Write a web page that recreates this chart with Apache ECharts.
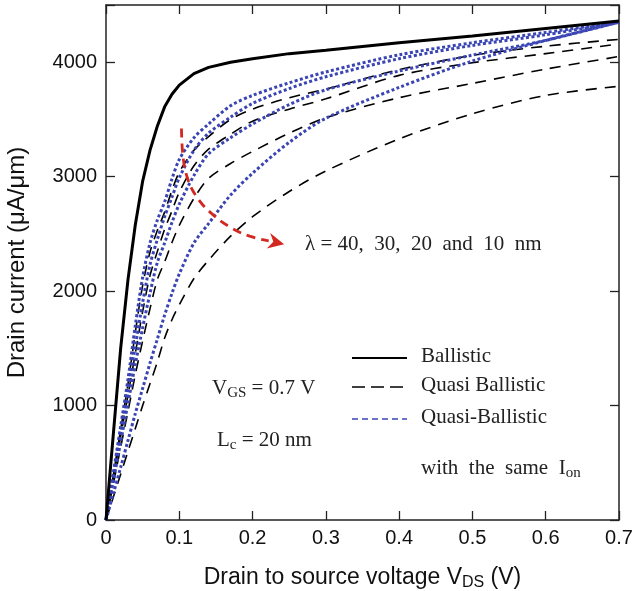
<!DOCTYPE html>
<html>
<head>
<meta charset="utf-8">
<style>
  html, body { margin: 0; padding: 0; background: #fff; }
  #main { width: 635px; height: 591px; }
</style>
</head>
<body>
<div id="main"></div>
<script src="https://cdn.jsdelivr.net/npm/echarts@6/dist/echarts.min.js"></script>
<script>
// V_DS sample points (V)
const vds = [0, 0.01, 0.02, 0.03, 0.04, 0.05, 0.06, 0.07, 0.08, 0.09, 0.1, 0.12, 0.14, 0.17, 0.2, 0.25, 0.3, 0.4, 0.5, 0.6, 0.7];

// drain current (uA/um)
const ballistic = [0, 750, 1500, 2100, 2580, 2960, 3230, 3440, 3610, 3720, 3800, 3900, 3955, 4000, 4030, 4075, 4105, 4170, 4230, 4295, 4360];

// quasi ballistic, lambda = 40, 30, 20, 10 nm
const quasi40 = [0, 395, 790, 1190, 1640, 2050, 2340, 2530, 2690, 2880, 3040, 3230, 3350, 3500, 3590, 3690, 3765, 3935, 4060, 4140, 4200];
const quasi30 = [0, 365, 730, 1090, 1455, 1820, 2135, 2345, 2540, 2700, 2865, 3095, 3240, 3370, 3485, 3590, 3680, 3885, 3995, 4075, 4160];
const quasi20 = [0, 315, 635, 950, 1270, 1565, 1845, 2100, 2255, 2425, 2575, 2810, 2985, 3115, 3220, 3380, 3515, 3690, 3815, 3940, 4050];
const quasi10 = [0, 200, 400, 600, 800, 1000, 1190, 1380, 1590, 1750, 1880, 2110, 2270, 2480, 2650, 2870, 3050, 3330, 3550, 3710, 3790];

// quasi ballistic with the same Ion
const sameIon40 = [0, 410, 820, 1230, 1700, 2120, 2420, 2620, 2780, 2980, 3150, 3340, 3460, 3620, 3710, 3820, 3915, 4065, 4170, 4260, 4350];
const sameIon30 = [0, 380, 760, 1140, 1520, 1900, 2230, 2450, 2650, 2820, 2990, 3230, 3380, 3520, 3640, 3770, 3873, 4031, 4147, 4240, 4350];
const sameIon20 = [0, 340, 680, 1020, 1360, 1680, 1980, 2250, 2420, 2600, 2760, 3010, 3200, 3340, 3460, 3630, 3759, 3923, 4062, 4191, 4350];
const sameIon10 = [0, 230, 460, 695, 930, 1150, 1370, 1580, 1790, 1980, 2150, 2420, 2590, 2840, 3030, 3300, 3510, 3780, 4010, 4190, 4350];

// red arrow path [V, uA/um], then the tip
const arrowPath = [[0.103, 3420], [0.105, 3180], [0.111, 2990], [0.123, 2830], [0.142, 2690], [0.169, 2560], [0.196, 2480], [0.222, 2440]];
const arrowTip = [0.243, 2410];

const xTicks = [0, 0.1, 0.2, 0.3, 0.4, 0.5, 0.6, 0.7];
const yTicks = [0, 1000, 2000, 3000, 4000];

const SANS = '"Liberation Sans", Arial, Helvetica, sans-serif';
const SERIF = '"Liberation Serif", "Times New Roman", serif';
const BLUE = '#3a45b3';
const RED = '#d3281f';

const pairs = arr => vds.map((v, i) => [v, arr[i]]);

const dashedSeries = [quasi40, quasi30, quasi20, quasi10].map(d => ({
  name: 'Quasi Ballistic',
  type: 'line',
  data: pairs(d),
  smooth: 0.3,
  showSymbol: false,
  lineStyle: { color: '#000', width: 1.6, type: [11, 8] },
  z: 3,
}));

const dottedSeries = [sameIon40, sameIon30, sameIon20, sameIon10].map(d => ({
  name: 'Quasi-Ballistic',
  type: 'line',
  data: pairs(d),
  smooth: 0.3,
  showSymbol: false,
  lineStyle: { color: BLUE, width: 3, type: [3, 2.4] },
  z: 4,
}));

const axisCommon = {
  axisLine: { show: true, onZero: false, lineStyle: { color: '#222', width: 1.5 } },
  axisTick: { show: true, inside: true, length: 9, lineStyle: { color: '#222', width: 1.3 } },
  splitLine: { show: false },
};

const subRich = { sub: { font: '15px ' + SERIF, fill: '#222', padding: [10, 0, 0, 0] } };

const chart = echarts.init(document.getElementById('main'));

const option = {
  animation: false,
  backgroundColor: '#fff',
  grid: { left: 106, right: 16, top: 5, bottom: 71, containLabel: false, outerBoundsMode: 'none' },
  xAxis: [
    {
      ...axisCommon,
      type: 'value',
      min: 0,
      max: 0.7,
      interval: 0.1,
      axisLabel: {
        color: '#111',
        fontFamily: SANS,
        fontSize: 20,
        margin: 8,
        formatter: v => (xTicks.includes(+v.toFixed(1)) ? (v === 0 ? '0' : v.toFixed(1)) : ''),
      },
      name: 'Drain to source voltage V{sub|DS} (V)',
      nameLocation: 'middle',
      nameGap: 44,
      nameTextStyle: {
        color: '#111',
        fontFamily: SANS,
        fontSize: 23,
        rich: { sub: { fontFamily: SANS, fontSize: 16, padding: [11, 0, 0, 0] } },
      },
    },
    {
      ...axisCommon,
      type: 'value',
      position: 'top',
      min: 0,
      max: 0.7,
      interval: 0.1,
      axisLabel: { show: false },
    },
  ],
  yAxis: [
    {
      ...axisCommon,
      type: 'value',
      min: 0,
      max: 4500,
      interval: 1000,
      axisLabel: {
        color: '#111',
        fontFamily: SANS,
        fontSize: 20,
        margin: 9,
        formatter: v => (yTicks.includes(v) ? String(v) : ''),
      },
      name: 'Drain current (μA/μm)',
      nameLocation: 'middle',
      nameGap: 77,
      nameTextStyle: { color: '#111', fontFamily: SANS, fontSize: 24 },
    },
    {
      ...axisCommon,
      type: 'value',
      position: 'right',
      min: 0,
      max: 4500,
      interval: 1000,
      axisLabel: { show: false },
    },
  ],
  series: [
    {
      name: 'Ballistic',
      type: 'line',
      data: pairs(ballistic),
      showSymbol: false,
      lineStyle: { color: '#000', width: 3 },
      z: 5,
    },
    ...dashedSeries,
    ...dottedSeries,
    {
      name: 'arrow',
      type: 'line',
      data: arrowPath,
      smooth: 0.4,
      showSymbol: false,
      lineStyle: { color: RED, width: 2.8, type: [9, 6] },
      z: 6,
    },
  ],
  graphic: [
    // annotation texts
    {
      type: 'text', left: 305, top: 234,
      style: { text: 'λ = 40,  30,  20  and  10  nm', font: '21px ' + SERIF, fill: '#222' },
    },
    {
      type: 'text', left: 212, top: 378,
      style: { text: 'V{sub|GS} = 0.7 V', font: '21px ' + SERIF, fill: '#222', rich: subRich },
    },
    {
      type: 'text', left: 217, top: 430,
      style: { text: 'L{sub|c} = 20 nm', font: '21px ' + SERIF, fill: '#222', rich: subRich },
    },
    // legend
    { type: 'line', shape: { x1: 352, y1: 358, x2: 407, y2: 358 }, style: { stroke: '#000', lineWidth: 2.2 } },
    { type: 'text', left: 421, top: 346, style: { text: 'Ballistic', font: '21px ' + SERIF, fill: '#222' } },
    { type: 'line', shape: { x1: 352, y1: 387, x2: 407, y2: 387 }, style: { stroke: '#000', lineWidth: 1.6, lineDash: [13, 6] } },
    { type: 'text', left: 421, top: 375, style: { text: 'Quasi Ballistic', font: '21px ' + SERIF, fill: '#222' } },
    { type: 'line', shape: { x1: 352, y1: 419, x2: 407, y2: 419 }, style: { stroke: BLUE, lineWidth: 1.3, lineDash: [6, 4] } },
    { type: 'text', left: 421, top: 407, style: { text: 'Quasi-Ballistic', font: '21px ' + SERIF, fill: '#222' } },
    {
      type: 'text', left: 421, top: 458,
      style: { text: 'with  the  same  I{sub|on}', font: '21px ' + SERIF, fill: '#222', rich: subRich },
    },
  ],
};

chart.setOption(option);

// arrow head at the end of the red path
const base = chart.convertToPixel({ gridIndex: 0 }, arrowPath[arrowPath.length - 1]);
const tip = chart.convertToPixel({ gridIndex: 0 }, arrowTip);
const dx = tip[0] - base[0];
const dy = tip[1] - base[1];
const len = Math.sqrt(dx * dx + dy * dy);
const ux = dx / len;
const uy = dy / len;
const back = [tip[0] - ux * 16, tip[1] - uy * 16];
const notch = [tip[0] - ux * 11, tip[1] - uy * 11];
chart.setOption({
  graphic: option.graphic.concat([{
    type: 'polygon',
    z: 10,
    shape: {
      points: [
        tip,
        [back[0] - uy * 8, back[1] + ux * 8],
        notch,
        [back[0] + uy * 8, back[1] - ux * 8],
      ],
    },
    style: { fill: RED },
  }]),
});
</script>
</body>
</html>
